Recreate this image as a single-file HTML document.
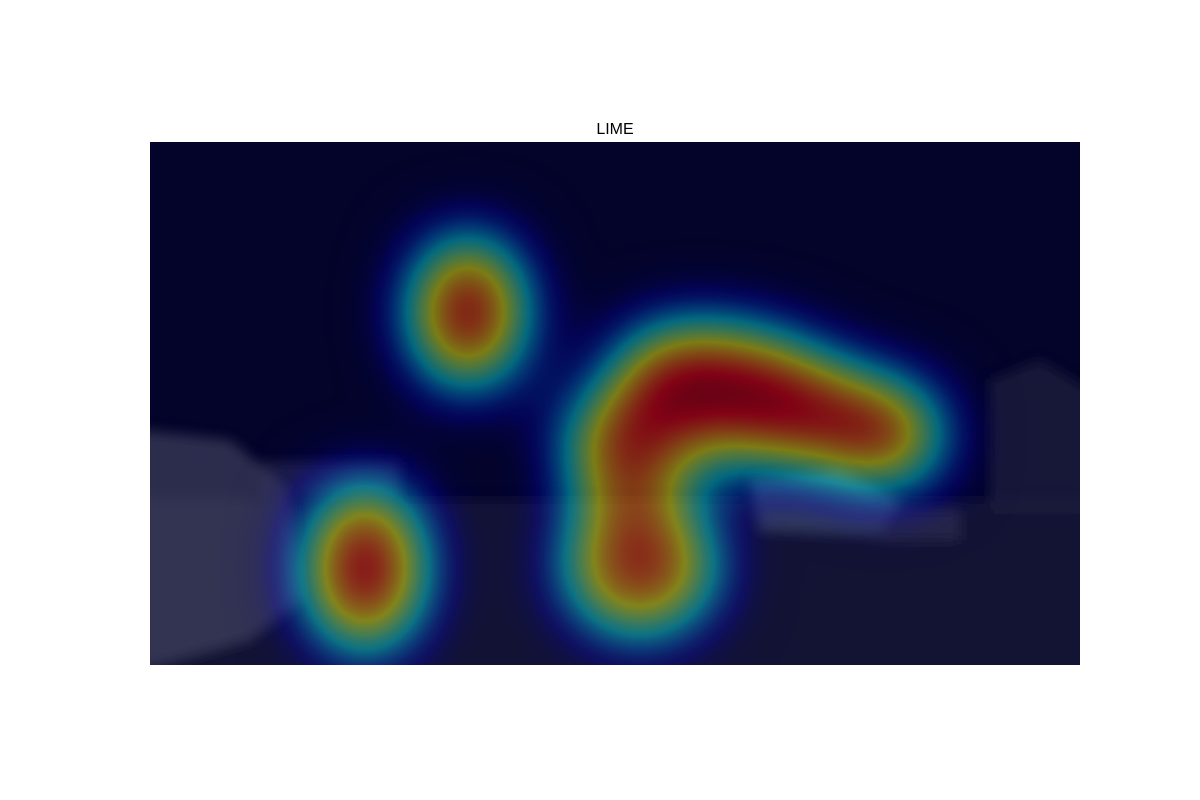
<!DOCTYPE html>
<html><head><meta charset="utf-8"><style>
html,body{margin:0;padding:0;background:#fff;width:1200px;height:800px;overflow:hidden}
svg{display:block}
</style></head><body>
<svg id="chart" width="1200" height="800">
<defs>
<filter id="jet" x="-30%" y="-30%" width="160%" height="160%" color-interpolation-filters="sRGB">
<feGaussianBlur in="SourceGraphic" stdDeviation="38"/>
<feColorMatrix type="matrix" values="0 0 0 1 0  0 0 0 1 0  0 0 0 1 0  0 0 0 1 0"/>
<feComponentTransfer>
<feFuncR type="table" tableValues="0 0 0 0 0.5 1 1 1 0.5"/>
<feFuncG type="table" tableValues="0 0 0.5 1 1 1 0.5 0 0"/>
<feFuncB type="table" tableValues="0.5 1 1 1 0.5 0 0 0 0"/>
<feFuncA type="table" tableValues="0 0.2 0.33 0.4 0.45 0.48 0.5 0.5 0.5"/>
</feComponentTransfer>
</filter>
<filter id="soft"><feGaussianBlur stdDeviation="6"/></filter>
<clipPath id="clip"><rect x="150" y="142" width="930" height="523"/></clipPath>
</defs>
<text x="615" y="134" text-anchor="middle" font-family="Liberation Sans, sans-serif" font-size="16" fill="#000">LIME</text>
<g clip-path="url(#clip)">
<rect x="150" y="142" width="930" height="523" fill="#04042a"/>
<g filter="url(#soft)">
<rect x="140" y="500" width="950" height="175" fill="#1c1a3a" opacity="0.6"/>
<path d="M140 430 L230 440 L290 490 L300 600 L250 640 L140 670 Z" fill="#4a4a66" opacity="0.6"/>
<rect x="260" y="462" width="140" height="35" fill="#3a3a5a" opacity="0.5"/>
<path d="M750 480 L840 470 L900 500 L880 535 L760 530 Z" fill="#4a5a70" opacity="0.6"/>
<path d="M990 380 L1040 360 L1090 390 L1090 510 L990 510 Z" fill="#2a2a48" opacity="0.5"/>
<rect x="880" y="510" width="80" height="30" fill="#3a3a5a" opacity="0.5"/>
</g>
<g id="heat" filter="url(#jet)"></g>
</g>
</svg>
<script>
// heat blobs: centre x, centre y, radius x, radius y, rotation, intensity
const blobX = [468, 745, 878, 625, 365, 640];
const blobY = [312, 395, 432, 445, 568, 565];
const blobRX = [56, 135, 66, 62, 58, 78];
const blobRY = [78, 62, 52, 52, 86, 72];
const blobRot = [0, 14, 10, 0, 0, 0];
const blobVal = [1, 1, 1, 0.95, 1, 0.88];
const g = document.getElementById('heat');
const NS = 'http://www.w3.org/2000/svg';
for (let i = 0; i < blobX.length; i++) {
  const e = document.createElementNS(NS, 'ellipse');
  e.setAttribute('cx', blobX[i]);
  e.setAttribute('cy', blobY[i]);
  e.setAttribute('rx', blobRX[i]);
  e.setAttribute('ry', blobRY[i]);
  e.setAttribute('transform', 'rotate(' + blobRot[i] + ' ' + blobX[i] + ' ' + blobY[i] + ')');
  e.setAttribute('fill', '#fff');
  e.setAttribute('fill-opacity', blobVal[i]);
  
  
  g.appendChild(e);
}
</script>
</body></html>
